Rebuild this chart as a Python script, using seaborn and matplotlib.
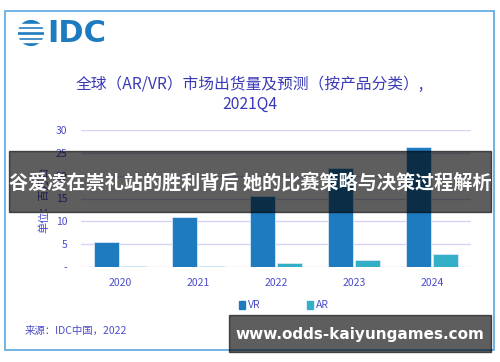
import matplotlib
matplotlib.use("Agg")
import matplotlib.pyplot as plt
import matplotlib.patches as mpatches
import seaborn as sns
import pandas as pd

years = ["2020", "2021", "2022", "2023", "2024"]
vr = [5.5, 10.9, 15.6, 21.7, 26.3]
ar = [0.3, 0.3, 0.8, 1.5, 2.9]
series = ["VR", "AR"]
yticks = [0, 5, 10, 15, 20, 25, 30]
ytick_labels = ["-", "5", "10", "15", "20", "25", "30"]
title = "全球（AR/VR）市场出货量及预测（按产品分类）,\n2021Q4"
ylabel = "单位：百万台"
source = "来源：IDC中国，2022"
banner = "谷爱凌在崇礼站的胜利背后 她的比赛策略与决策过程解析"
watermark = "www.odds-kaiyungames.com"

df = pd.DataFrame({
    "year": years * 2,
    "value": vr + ar,
    "series": [series[0]] * len(years) + [series[1]] * len(years),
})

sns.set_theme(style="white")
plt.rcParams["font.family"] = ["Noto Sans CJK SC", "DejaVu Sans"]

W, H = 500, 362
fig = plt.figure(figsize=(5, 3.62), dpi=100)
fig.patch.set_facecolor("white")

def fx(x): return x / W
def fy(y): return 1 - y / H

tick_col = "#4b4bcc"
palette = {"VR": "#1f7bbf", "AR": "#33b0c8"}

ax = fig.add_axes([fx(81), fy(267), fx(471) - fx(81), fy(130) - fy(267)])
sns.barplot(data=df, x="year", y="value", hue="series", palette=palette,
            saturation=1, width=0.7, gap=0.1, ax=ax, legend=False,
            edgecolor="#d8e8f5", linewidth=0.6, zorder=3)
ax.set_xlim(-0.5, 4.5)
ax.set_ylim(0, 30)
ax.set_yticks(yticks)
ax.set_yticklabels(ytick_labels)
ax.yaxis.grid(True, color="#d4d4f4", linewidth=1.0, zorder=0)
ax.set_axisbelow(True)
for s in ax.spines.values():
    s.set_visible(False)
ax.tick_params(axis="both", length=0, labelsize=7.5, colors=tick_col)
ax.tick_params(axis="y", pad=10)
ax.tick_params(axis="x", pad=8)
ax.set_xlabel("")
ax.set_ylabel("")
fig.text(fx(44), fy(200), ylabel, rotation=90, ha="center", va="center",
         fontsize=8, color=tick_col)

# title
fig.text(fx(250), fy(84), title.split("\n")[0], ha="center", va="center",
         fontsize=11.3, color="#3a3ab8")
fig.text(fx(250), fy(104), title.split("\n")[1], ha="center", va="center",
         fontsize=11.3, color="#3a3ab8")

# frame
fig.add_artist(mpatches.Rectangle((fx(5), fy(350)), fx(489), fy(11) - fy(350),
                                  transform=fig.transFigure, fill=False,
                                  edgecolor="#5aa7e0", linewidth=1.2))

# IDC logo
logo_ax = fig.add_axes([fx(18), fy(46), fx(26), fy(20) - fy(46)])
logo_ax.set_xlim(-1, 1); logo_ax.set_ylim(-1, 1); logo_ax.axis("off")
logo_ax.add_patch(mpatches.Circle((0, 0), 0.95, color="#1f7bbf"))
for yy in [-0.6, -0.2, 0.2, 0.6]:
    logo_ax.add_patch(mpatches.Rectangle((-1, yy - 0.07), 2, 0.14, color="white"))
fig.text(fx(47), fy(33), "IDC", ha="left", va="center", fontsize=22,
         fontweight="bold", color="#1f7bbf", family="DejaVu Sans")

# legend
fig.add_artist(mpatches.Rectangle((fx(239), fy(309)), fx(6), fy(301) - fy(309),
                                  transform=fig.transFigure, color=palette["VR"]))
fig.text(fx(248), fy(305), "VR", ha="left", va="center", fontsize=7.5, color=tick_col)
fig.add_artist(mpatches.Rectangle((fx(307), fy(309)), fx(6), fy(301) - fy(309),
                                  transform=fig.transFigure, color=palette["AR"]))
fig.text(fx(316), fy(305), "AR", ha="left", va="center", fontsize=7.5, color=tick_col)

# source
fig.text(fx(25), fy(331), source, ha="left", va="center", fontsize=7.5, color=tick_col)

# banner overlay
fig.add_artist(mpatches.Rectangle((fx(9), fy(212)), fx(482), fy(151) - fy(212),
                                  transform=fig.transFigure, color="black",
                                  alpha=0.63, zorder=10))
fig.text(fx(250), fy(183), banner, ha="center", va="center", fontsize=13.8,
         fontweight="bold", color="white", zorder=11)

# watermark box
fig.add_artist(mpatches.Rectangle((fx(229), fy(352)), fx(262), fy(315) - fy(352),
                                  transform=fig.transFigure, color="black",
                                  alpha=0.63, zorder=10))
fig.text(fx(360), fy(334), watermark, ha="center", va="center", fontsize=11,
         fontweight="bold", color="white", family="DejaVu Sans", zorder=11)

fig.savefig("out.png", dpi=100)
